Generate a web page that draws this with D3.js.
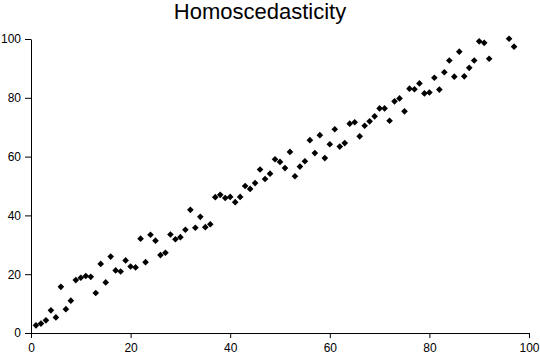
<!DOCTYPE html>
<html>
<head>
<meta charset="utf-8">
<script src="https://cdn.jsdelivr.net/npm/d3@7"></script>
<style>
  html, body { margin: 0; padding: 0; background: #fff; }
  svg { display: block; font-family: "Liberation Sans", Arial, sans-serif; }
</style>
</head>
<body>
<svg id="chart" width="540" height="354"></svg>
<script>
const title = "Homoscedasticity";
const xValues = [1,2,3,4,5,6,7,8,9,10,11,12,13,14,15,16,17,18,19,20,
  21,22,23,24,25,26,27,28,29,30,31,32,33,34,35,36,37,38,39,40,
  41,42,43,44,45,46,47,48,49,50,51,52,53,54,55,56,57,58,59,60,
  61,62,63,64,65,66,67,68,69,70,71,72,73,74,75,76,77,78,79,80,
  81,82,83,84,85,86,87,88,89,90,91,92,96,97];
const yValues = [2.6,3.2,4.3,7.7,5.3,15.7,8.1,11,18,18.8,19.4,19.1,13.6,23.5,17.2,26,21.3,20.9,24.7,22.6,
  22.3,32.1,24.1,33.4,31.4,26.5,27.3,33.5,31.9,32.6,35.1,41.9,35.8,39.5,36,37,46.2,47,45.9,46.3,
  44.5,46.3,50,49,51,55.6,52.4,54.2,59.1,58.2,56.1,61.6,53.3,56.6,58.4,65.6,61.2,67.3,59.5,64.2,
  69.3,63.4,64.6,71.2,71.7,66.9,70.5,72,73.7,76.4,76.4,72.2,78.8,79.8,75.4,83.1,82.9,84.9,81.5,81.8,
  86.8,82.8,88.7,92.7,87.2,95.7,87.3,90.2,92.7,99.2,98.7,93.3,100.1,97.4];
const xTicks = [0,20,40,60,80,100];
const yTicks = [0,20,40,60,80,100];

const svg = d3.select("#chart");
const x = d3.scaleLinear().domain([0,100]).range([31,529]);
const y = d3.scaleLinear().domain([0,100]).range([333,39]);

svg.append("text")
  .attr("x", 260).attr("y", 19)
  .attr("text-anchor", "middle")
  .attr("font-size", 22)
  .attr("fill", "#000")
  .text(title);

const gx = svg.append("g").attr("transform", "translate(0,333)")
  .call(d3.axisBottom(x).tickValues(xTicks).tickSize(5).tickSizeOuter(0).tickPadding(5));
const gy = svg.append("g").attr("transform", "translate(31,0)")
  .call(d3.axisLeft(y).tickValues(yTicks).tickSize(6).tickSizeOuter(0).tickPadding(4));
[gx, gy].forEach(g => {
  g.selectAll("text").attr("font-size", 12).attr("fill", "#000").attr("font-family", "'Liberation Sans', Arial, sans-serif");
  g.selectAll("line, path").attr("stroke", "#000");
});

const data = xValues.map((v, i) => ({x: v, y: yValues[i]}));
const sym = d3.symbol().type(d3.symbolSquare).size(22);
svg.append("g").selectAll("path")
  .data(data)
  .join("path")
  .attr("d", sym)
  .attr("transform", d => `translate(${x(d.x)},${y(d.y)}) rotate(45)`)
  .attr("fill", "#000");
</script>
</body>
</html>
